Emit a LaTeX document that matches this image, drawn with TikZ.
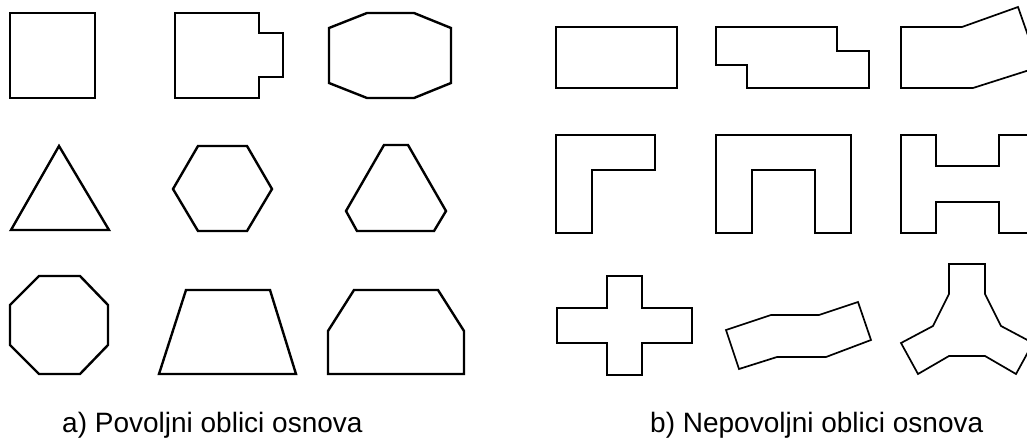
\documentclass[tikz,border=0pt]{standalone}
\usepackage{fontspec}
\setmainfont{Liberation Sans}
\begin{document}
\begin{tikzpicture}[x=1pt,y=-1pt,
  good/.style={draw=black,line width=2.4pt,line join=miter},
  bad/.style={draw=black,line width=1.7pt,line join=miter},
  caption/.style={anchor=base west,inner sep=0pt,font=\fontsize{28}{33}\selectfont}]
\useasboundingbox (0,0) rectangle (1027,444);
\fill[white] (0,0) rectangle (1027,444);
\clip (0,0) rectangle (1027,444);
% a) favourable shapes
\draw[good] (10,13) rectangle (95,98);
\draw[good] (175,13) -- (259,13) -- (259,33) -- (283,33) -- (283,77) -- (259,77) -- (259,98) -- (175,98) -- cycle;
\draw[good] (367,13) -- (414,13) -- (451,28) -- (451,83) -- (414,98) -- (367,98) -- (329,83) -- (329,28) -- cycle;
\draw[good] (59,146) -- (109,230) -- (11,230) -- cycle;
\draw[good] (198,146) -- (247,146) -- (272,189) -- (247,231) -- (198,231) -- (173,189) -- cycle;
\draw[good] (384,145) -- (408,145) -- (446,211) -- (434,231) -- (357,231) -- (346,211) -- cycle;
\draw[good] (39,276) -- (80,276) -- (108,305) -- (108,345) -- (80,374) -- (39,374) -- (10,345) -- (10,305) -- cycle;
\draw[good] (186,290) -- (270,290) -- (296,374) -- (159,374) -- cycle;
\draw[good] (354,290) -- (438,290) -- (464,331) -- (464,374) -- (328,374) -- (328,331) -- cycle;
% b) unfavourable shapes
\draw[bad] (556,27) rectangle (677,88);
\draw[bad] (716,27) -- (837,27) -- (837,51) -- (869,51) -- (869,88) -- (747,88) -- (747,65) -- (716,65) -- cycle;
\draw[bad] (901,27) -- (962,27) -- (1018,7) -- (1039,67) -- (973,88) -- (901,88) -- cycle;
\draw[bad] (556,135) -- (655,135) -- (655,170) -- (592,170) -- (592,233) -- (556,233) -- cycle;
\draw[bad] (716,135) -- (851,135) -- (851,233) -- (815,233) -- (815,170) -- (752,170) -- (752,233) -- (716,233) -- cycle;
\draw[bad] (901,135) -- (936,135) -- (936,166) -- (999,166) -- (999,135) -- (1040,135) -- (1040,233) -- (999,233) -- (999,202) -- (936,202) -- (936,233) -- (901,233) -- cycle;
\draw[bad] (607,276) -- (642,276) -- (642,308) -- (692,308) -- (692,343) -- (642,343) -- (642,375) -- (607,375) -- (607,343) -- (557,343) -- (557,308) -- (607,308) -- cycle;
\draw[bad] (726,330) -- (771,315) -- (819,315) -- (858,302) -- (871,340) -- (826,357) -- (777,357) -- (739,369) -- cycle;
\draw[bad] (949,264) -- (985,264) -- (985,294) -- (1001,326) -- (1033,343) -- (1016,374) -- (985,356) -- (949,356) -- (918,374) -- (901,343) -- (933,326) -- (949,294) -- cycle;
% captions
\node[caption] (capa) at (62,432) {a) Povoljni oblici osnova};
\node[caption] (capb) at (650,432) {b) Nepovoljni oblici osnova};
\end{tikzpicture}
\end{document}
